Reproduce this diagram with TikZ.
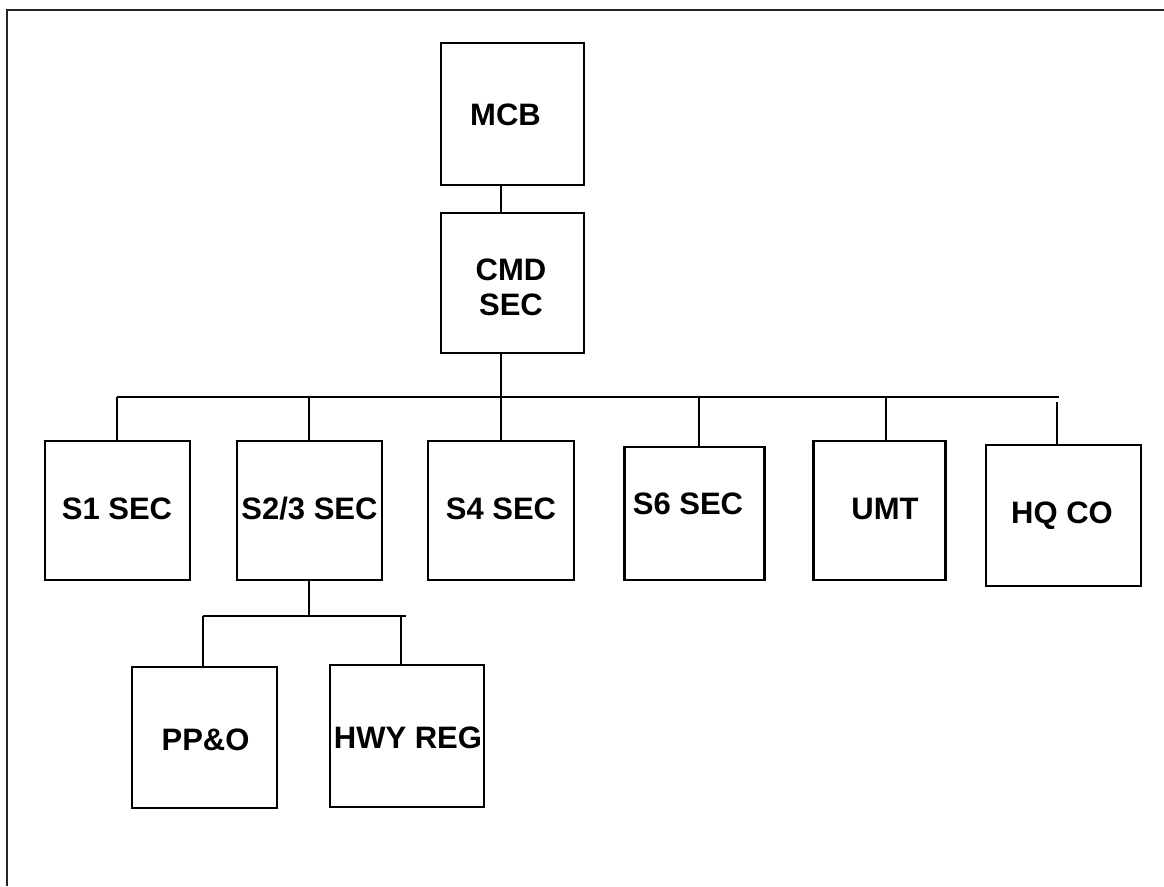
\documentclass[tikz,border=0pt]{standalone}
\usepackage{fontspec}
\setmainfont{Liberation Sans}
\begin{document}
\begin{tikzpicture}[x=1pt,y=-1pt,
  box/.style={draw=black,line width=2.9pt,fill=none,inner sep=0pt},
  lbl/.style={font=\bfseries\fontsize{31}{35}\selectfont,inner sep=0pt,align=center},
  conn/.style={draw=black,line width=2.3pt}]
\useasboundingbox (0,0) rectangle (1164,886);
% frame
\draw[line width=2.2pt,black!85] (7,886) -- (7,10) -- (1164,10);
% boxes
\node[box,minimum width=143pt,minimum height=142pt] (mcb) at (512.5,114) {};
\node[box,minimum width=143pt,minimum height=140pt] (cmd) at (512.5,283) {};
\node[box,minimum width=145pt,minimum height=139pt] (s1) at (117.5,510.5) {};
\node[box,minimum width=145pt,minimum height=139pt] (s23) at (309.5,510.5) {};
\node[box,minimum width=146pt,minimum height=139pt] (s4) at (501,510.5) {};
\node[box,minimum width=140pt,minimum height=133pt] (s6) at (694.5,513.5) {};
\node[box,minimum width=132pt,minimum height=139pt] (umt) at (879.5,510.5) {};
\node[box,minimum width=155pt,minimum height=141pt] (hq) at (1063.5,515.5) {};
\node[box,minimum width=145pt,minimum height=141pt] (ppo) at (204.5,737.5) {};
\node[box,minimum width=154pt,minimum height=142pt] (hwy) at (407,736) {};
% labels
\node[lbl] (tmcb) at (505.5,114.5) {MCB};
\node[lbl] (tcmd) at (511,287) {CMD\\SEC};
\node[lbl] (ts1) at (117,508.5) {S1 SEC};
\node[lbl] (ts23) at (309.5,508.5) {S2/3 SEC};
\node[lbl] (ts4) at (501,508.5) {S4 SEC};
\node[lbl] (ts6) at (688,503.5) {S6 SEC};
\node[lbl] (tumt) at (885,508.5) {UMT};
\node[lbl] (thq) at (1062,515.5) {HQ CO};
\node[lbl] (tppo) at (205.5,740) {PP\&O};
\node[lbl] (thwy) at (408,738) {HWY REG};
% junction coordinates
\coordinate (top) at (501,199);
\coordinate (bus) at (501,397);
\coordinate (busL) at (117,397);
\coordinate (busR) at (1059,397);
\coordinate (c1) at (117,397);
\coordinate (c23) at (309,397);
\coordinate (c4) at (501,397);
\coordinate (c6) at (699,397);
\coordinate (cumt) at (886,397);
\coordinate (chq) at (1057,402);
\coordinate (sub) at (309,616);
\coordinate (subL) at (203,616);
\coordinate (subR) at (406,616);
\coordinate (cpp) at (203,616);
\coordinate (chw) at (401,616);
% connectors
\draw[conn] (mcb.south -| top) -- (cmd.north -| top);
\draw[conn] (cmd.south -| bus) -- (bus);
\draw[conn] (busL) -- (busR);
\draw[conn] (c1) -- (s1.north -| c1);
\draw[conn] (c23) -- (s23.north -| c23);
\draw[conn] (c4) -- (s4.north -| c4);
\draw[conn] (c6) -- (s6.north -| c6);
\draw[conn] (cumt) -- (umt.north -| cumt);
\draw[conn] (chq) -- (hq.north -| chq);
\draw[conn] (s23.south -| sub) -- (sub);
\draw[conn] (subL) -- (subR);
\draw[conn] (cpp) -- (ppo.north -| cpp);
\draw[conn] (chw) -- (hwy.north -| chw);
\end{tikzpicture}
\end{document}
